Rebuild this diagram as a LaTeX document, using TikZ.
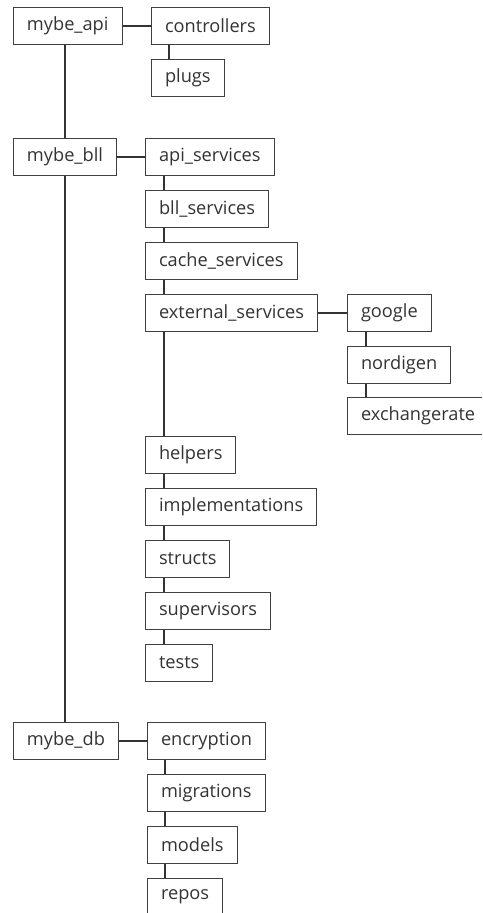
\documentclass[tikz,border=0pt]{standalone}
\usepackage{fontspec}
\setmainfont{Open Sans}
\usepackage{tikz}
\usetikzlibrary{positioning}
\tikzset{dir/.style={draw=black!75, line width=1pt, anchor=north west, minimum height=37pt, inner xsep=13.5pt, inner ysep=0pt, font=\fontsize{18.2}{20}\selectfont, text=black!80},
link/.style={draw=black!80, line width=1.1pt}}

\begin{document}
\begin{tikzpicture}[x=1pt, y=-1pt]
\useasboundingbox (0,0) rectangle (482,913);
\clip (0,0) rectangle (482,913);
\node[dir] (mapi) at (13,7) {mybe\_api};
\node[dir] (ctrl) at (151,7) {controllers};
\node[dir] (plugs) at (151,59) {plugs};
\node[dir] (mbll) at (13,138) {mybe\_bll};
\node[dir] (apisvc) at (145,138) {api\_services};
\node[dir] (bllsvc) at (145,190) {bll\_services};
\node[dir] (cachesvc) at (145,242) {cache\_services};
\node[dir] (extsvc) at (145,294) {external\_services};
\node[dir] (google) at (347,294) {google};
\node[dir] (nordigen) at (347,346) {nordigen};
\node[dir] (exrate) at (347,397) {exchangerate};
\node[dir] (helpers) at (145,436) {helpers};
\node[dir] (impl) at (145,488) {implementations};
\node[dir] (structs) at (145,540) {structs};
\node[dir] (superv) at (145,592) {supervisors};
\node[dir] (tests) at (145,644) {tests};
\node[dir] (mdb) at (13,722) {mybe\_db};
\node[dir] (encr) at (147,722) {encryption};
\node[dir] (migr) at (147,774) {migrations};
\node[dir] (models) at (147,826) {models};
\node[dir] (repos) at (147,878) {repos};
% root line
\draw[link] ([xshift=52pt]mapi.south west) -- ([xshift=52pt]mbll.north west);
\draw[link] ([xshift=52pt]mbll.south west) -- ([xshift=52pt]mdb.north west);
% horizontal
\draw[link] (mapi.east) -- (ctrl.west);
\draw[link] (mbll.east) -- (apisvc.west);
\draw[link] (extsvc.east) -- (google.west);
\draw[link] (mdb.east) -- (encr.west);
% vertical
\draw[link] ([xshift=18pt]ctrl.south west) -- ([xshift=18pt]plugs.north west);
\draw[link] ([xshift=19pt]apisvc.south west) -- ([xshift=19pt]bllsvc.north west);
\draw[link] ([xshift=19pt]bllsvc.south west) -- ([xshift=19pt]cachesvc.north west);
\draw[link] ([xshift=19pt]cachesvc.south west) -- ([xshift=19pt]extsvc.north west);
\draw[link] ([xshift=19pt]extsvc.south west) -- ([xshift=19pt]helpers.north west);
\draw[link] ([xshift=19pt]helpers.south west) -- ([xshift=19pt]impl.north west);
\draw[link] ([xshift=19pt]impl.south west) -- ([xshift=19pt]structs.north west);
\draw[link] ([xshift=19pt]structs.south west) -- ([xshift=19pt]superv.north west);
\draw[link] ([xshift=19pt]superv.south west) -- ([xshift=19pt]tests.north west);
\draw[link] ([xshift=19pt]google.south west) -- ([xshift=19pt]nordigen.north west);
\draw[link] ([xshift=19pt]nordigen.south west) -- ([xshift=19pt]exrate.north west);
\draw[link] ([xshift=18pt]encr.south west) -- ([xshift=18pt]migr.north west);
\draw[link] ([xshift=18pt]migr.south west) -- ([xshift=18pt]models.north west);
\draw[link] ([xshift=18pt]models.south west) -- ([xshift=18pt]repos.north west);
\end{tikzpicture}
\end{document}
